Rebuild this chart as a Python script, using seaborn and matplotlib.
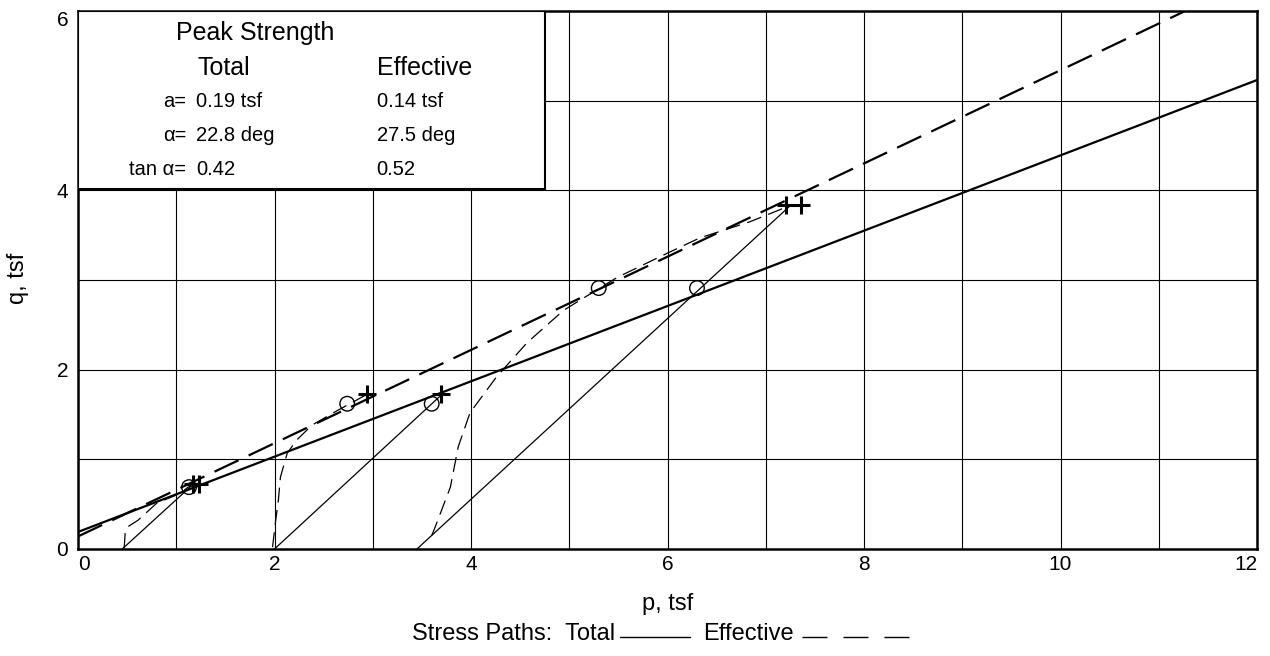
import matplotlib
matplotlib.use("Agg")
import numpy as np
import matplotlib.pyplot as plt
from matplotlib.patches import Rectangle
from matplotlib.lines import Line2D
import seaborn as sns

# strength envelopes q = a + tan(alpha) * p
a_total = 0.19
tan_total = 0.42
a_eff = 0.14
tan_eff = 0.52
p_env = np.array([0.0, 12.0])

# total stress paths (p, q)
tot_p = [[0.45, 1.17], [2.0, 3.70], [3.45, 7.25]]
tot_q = [[0.0, 0.72], [0.0, 1.72], [0.0, 3.83]]

# effective stress paths (p, q)
eff_p = [
    [0.47, 0.48, 0.51, 0.61, 0.80, 1.04, 1.12, 1.20],
    [1.98, 2.01, 2.04, 2.06, 2.13, 2.23, 2.38, 2.60, 2.75, 2.95],
    [3.60, 3.63, 3.79, 3.87, 3.99, 4.26, 4.57, 4.94, 5.31, 5.49, 6.00, 6.33, 6.84, 7.18, 7.25],
]
eff_q = [
    [0.01, 0.18, 0.25, 0.32, 0.51, 0.62, 0.69, 0.72],
    [0.02, 0.30, 0.55, 0.80, 1.07, 1.22, 1.38, 1.52, 1.61, 1.73],
    [0.15, 0.23, 0.69, 1.14, 1.52, 1.92, 2.30, 2.66, 2.91, 3.03, 3.30, 3.47, 3.65, 3.80, 3.83],
]

# failure points (circles) and peak points (pluses)
circ_p = [1.13, 2.74, 3.60, 5.30, 6.30]
circ_q = [0.69, 1.62, 1.62, 2.91, 2.91]
peak_p = [1.17, 1.23, 2.94, 3.69, 7.21, 7.36]
peak_q = [0.72, 0.72, 1.73, 1.73, 3.84, 3.84]

# summary table text
col_total = ["0.19 tsf", "22.8 deg", "0.42"]
col_eff = ["0.14 tsf", "27.5 deg", "0.52"]
row_names = ["a=", "\u03b1=", "tan \u03b1="]

sns.set_style("white")
plt.rcParams["font.family"] = ["Liberation Sans", "DejaVu Sans"]
plt.rcParams["text.color"] = "black"
plt.rcParams["xtick.color"] = "black"
plt.rcParams["ytick.color"] = "black"

W, H = 1270, 656
fig = plt.figure(figsize=(W / 100, H / 100), dpi=100)
ax = fig.add_axes([78 / W, 1 - 549 / H, (1257 - 78) / W, (549 - 11) / H])

# envelopes
sns.lineplot(x=p_env, y=a_total + tan_total * p_env, color="black", lw=1.6, ax=ax)
sns.lineplot(x=p_env, y=a_eff + tan_eff * p_env, color="black", lw=1.6,
             linestyle=(0, (12, 5)), ax=ax)

# stress paths
for xp, yq in zip(tot_p, tot_q):
    sns.lineplot(x=xp, y=yq, color="black", lw=0.9, sort=False, ax=ax)
for xp, yq in zip(eff_p, eff_q):
    sns.lineplot(x=xp, y=yq, color="black", lw=0.9, sort=False,
                 linestyle=(0, (12, 6)), ax=ax)

sns.scatterplot(x=circ_p, y=circ_q, marker="o", s=110, facecolor="none",
                edgecolor="black", linewidth=1.0, zorder=5, ax=ax)
sns.scatterplot(x=peak_p, y=peak_q, marker="+", s=150, color="black",
                linewidth=2.2, zorder=5, ax=ax)

ax.set_xlim(0, 12)
ax.set_ylim(0, 6)
ax.set_xticks(range(0, 13, 2))
ax.set_xticks(range(1, 12, 2), minor=True)
ax.set_yticks(range(0, 7, 2))
ax.set_yticks(range(1, 6, 2), minor=True)
ax.grid(True, which="both", color="black", lw=0.8)
ax.set_axisbelow(True)
ax.tick_params(which="both", length=0, labelsize=15)
ax.tick_params(axis="x", pad=4)
ax.tick_params(axis="y", pad=7)
xl = ax.get_xticklabels()
xl[0].set_ha("left")
xl[-1].set_ha("right")
ax.get_yticklabels()[-1].set_va("top")
for s in ax.spines.values():
    s.set_color("black")
    s.set_linewidth(1.8)

# summary box
ax.add_patch(Rectangle((0, 4.02), 4.75, 1.98, facecolor="white",
                       edgecolor="black", lw=1.5, zorder=3))
ax.text(1.80, 5.75, "Peak Strength", fontsize=18, ha="center", va="center", zorder=4)
ax.text(1.22, 5.36, "Total", fontsize=18, ha="left", va="center", zorder=4)
ax.text(3.04, 5.36, "Effective", fontsize=18, ha="left", va="center", zorder=4)
for i, (name, vt, ve) in enumerate(zip(row_names, col_total, col_eff)):
    yq = 4.99 - i * 0.38
    ax.text(1.10, yq, name, fontsize=14.5, ha="right", va="center", zorder=4)
    ax.text(1.20, yq, vt, fontsize=14.5, ha="left", va="center", zorder=4)
    ax.text(3.04, yq, ve, fontsize=14.5, ha="left", va="center", zorder=4)

ax.set_xlabel("")
ax.set_ylabel("")
fig.text(668 / W, 1 - 604 / H, "p, tsf", fontsize=17, ha="center", va="center")
fig.text(18 / W, 1 - 278 / H, "q, tsf", fontsize=17, ha="center", va="center",
         rotation=90)

# stress path key, pieces placed from measured text extents
fig.canvas.draw()
r = fig.canvas.get_renderer()
ky = 1 - 634 / H
t1 = fig.text(412 / W, ky, "Stress Paths:  Total", fontsize=17, ha="left", va="center")
x1 = t1.get_window_extent(r).x1
fig.add_artist(Line2D([(x1 + 5) / W, (x1 + 75) / W], [ky - 3 / H] * 2,
                      color="black", lw=1.0))
t2 = fig.text((x1 + 88) / W, ky, "Effective", fontsize=17, ha="left", va="center")
x2 = t2.get_window_extent(r).x1
# three dashes: 25 px dash, 16 px gap
fig.add_artist(Line2D([(x2 + 8) / W, (x2 + 8 + 107) / W], [ky - 3 / H] * 2,
                      color="black", lw=1.0, linestyle=(0, (18, 11.5))))

fig.savefig("out.png", dpi=100)
